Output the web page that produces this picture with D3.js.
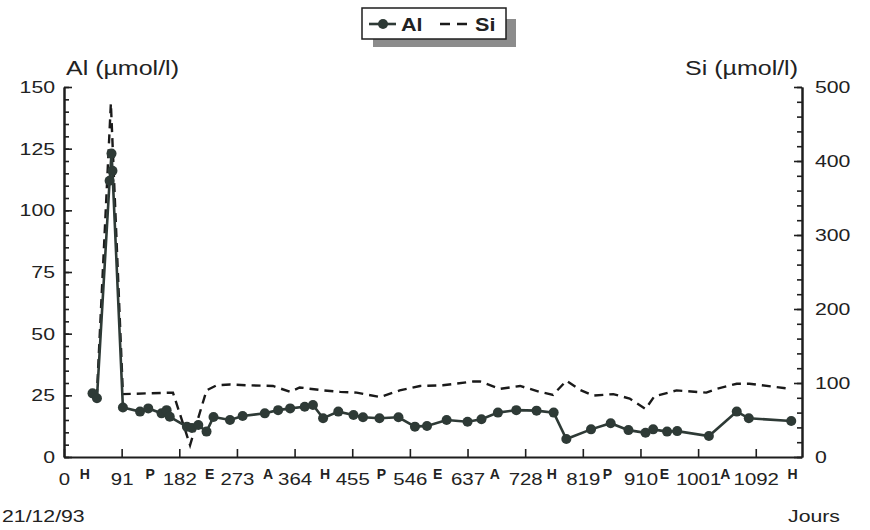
<!DOCTYPE html>
<html>
<head>
<meta charset="utf-8">
<script src="https://cdn.jsdelivr.net/npm/d3@7"></script>
<style>
  html, body { margin: 0; padding: 0; background: #fff; }
  svg { display: block; }
  text { font-family: "Liberation Sans", Arial, sans-serif; fill: #222; }
</style>
</head>
<body>
<svg id="chart" width="870" height="530"></svg>
<script>
// ---- data (days since 21/12/93) ----
const alDays   = [45, 52, 72, 75, 76.5, 93, 120, 133, 154, 162, 167, 194, 202, 212, 225, 236, 262, 282, 317, 338, 357, 380, 393, 409, 433, 457, 472, 498, 528, 554, 573, 604, 637, 659, 685, 714, 746, 773, 793, 832, 863, 891, 918, 930, 952, 968, 1018, 1062, 1081, 1148];
const alValues = [25.8, 23.8, 112, 123, 116, 20.1, 18.4, 19.7, 17.7, 19.0, 16.3, 12.3, 11.8, 13.0, 10.3, 16.2, 15.0, 16.6, 17.7, 19.0, 19.7, 20.4, 21.1, 15.7, 18.4, 17.0, 16.1, 15.7, 16.1, 12.3, 12.6, 15.0, 14.3, 15.3, 18.0, 19.0, 18.8, 18.0, 7.3, 11.2, 13.7, 10.9, 9.8, 11.2, 10.3, 10.5, 8.5, 18.4, 15.7, 14.6];

const siDays   = [45, 52, 74, 93, 172, 199, 225, 241, 262, 288, 330, 357, 372, 409, 436, 462, 499, 530, 562, 598, 646, 657, 688, 720, 751, 772, 793, 814, 835, 867, 893, 918, 932, 967, 1014, 1030, 1062, 1082, 1148];
const siValues = [88, 86, 478, 85, 87, 16, 90, 97, 98, 97, 96, 88, 94, 90, 88, 87, 81, 90, 96, 97, 102, 102, 92, 96, 88, 84, 103, 91, 83, 85, 79, 65, 82, 90, 87, 92, 99, 99, 92];

const xTicks   = [0, 91, 182, 273, 364, 455, 546, 637, 728, 819, 910, 1001, 1092];
const alTicks  = [0, 25, 50, 75, 100, 125, 150];
const siTicks  = [0, 100, 200, 300, 400, 500];
const seasons    = ["H", "P", "E", "A", "H", "P", "E", "A", "H", "P", "E", "A", "H"];
const seasonDays = [33, 136, 230, 322, 412, 501, 590, 680, 770, 858, 948, 1044, 1150];

// ---- layout ----
const svg = d3.select("#chart");
const X0 = 64, X1 = 802, Y0 = 457, Y1 = 87;
const SX = 1.25; // horizontal stretch of the scanned text

const x   = d3.scaleLinear().domain([0, 1165]).range([X0, X1]);
const yAl = d3.scaleLinear().domain([0, 150]).range([Y0, Y1]);
const ySi = d3.scaleLinear().domain([0, 500]).range([Y0, Y1]);

const ink = "#1e1e1e";
const alColor = "#2e3a36";

// ---- axes ----
function styleAxis(g) {
  g.selectAll("path.domain").attr("stroke", ink).attr("stroke-width", 2);
  g.selectAll(".tick line").attr("stroke", ink).attr("stroke-width", 1.6);
  g.selectAll("text").attr("font-size", 17).attr("fill", "#222")
    .attr("font-family", "'Liberation Sans', Arial, sans-serif");
}
const fmt = d3.format("d");

// left minor ticks
svg.append("g").attr("transform", `translate(${X0},0)`)
  .call(d3.axisLeft(yAl).tickValues(d3.range(0, 151, 5)).tickSize(-5).tickSizeOuter(0).tickFormat(""))
  .call(styleAxis);
// left major
const gL = svg.append("g").attr("transform", `translate(${X0},0)`)
  .call(d3.axisLeft(yAl).tickValues(alTicks).tickSize(-8).tickSizeOuter(0).tickFormat(fmt))
  .call(styleAxis);
gL.selectAll("text").attr("x", -9 / SX).attr("transform", `scale(${SX},1)`);

// right minor
svg.append("g").attr("transform", `translate(${X1},0)`)
  .call(d3.axisRight(ySi).tickValues(d3.range(0, 501, 20)).tickSize(-5).tickSizeOuter(0).tickFormat(""))
  .call(styleAxis);
const gR = svg.append("g").attr("transform", `translate(${X1},0)`)
  .call(d3.axisRight(ySi).tickValues(siTicks).tickSize(-8).tickSizeOuter(0).tickFormat(fmt))
  .call(styleAxis);
gR.selectAll("text").attr("x", 13 / SX).attr("transform", `scale(${SX},1)`);

// bottom
const gB = svg.append("g").attr("transform", `translate(0,${Y0})`)
  .call(d3.axisBottom(x).tickValues(xTicks).tickSize(-8).tickSizeOuter(0).tickFormat(fmt))
  .call(styleAxis);
gB.selectAll("text").attr("y", 28).attr("dy", 0).attr("transform", `scale(1.2,1)`);

// season letters
svg.append("g").selectAll("text").data(seasons).join("text")
  .attr("x", (d, i) => x(seasonDays[i]))
  .attr("y", 479)
  .attr("text-anchor", "middle")
  .attr("font-size", 14)
  .attr("font-weight", "bold")
  .text(d => d);

// axis titles
svg.append("text").attr("transform", `translate(66,75) scale(${SX},1)`)
  .attr("font-size", 20).text("Al (µmol/l)");
svg.append("text").attr("transform", `translate(798,75) scale(${SX},1)`)
  .attr("font-size", 20).attr("text-anchor", "end").text("Si (µmol/l)");
svg.append("text").attr("transform", `translate(2,522) scale(${SX},1)`)
  .attr("font-size", 17).text("21/12/93");
svg.append("text").attr("transform", `translate(840,522) scale(${SX},1)`)
  .attr("font-size", 17).attr("text-anchor", "end").text("Jours");

// ---- series ----
const siData = siDays.map((d, i) => [d, siValues[i]]);
const alData = alDays.map((d, i) => [d, alValues[i]]);

svg.append("path").datum(siData)
  .attr("fill", "none").attr("stroke", "#1a1a1a").attr("stroke-width", 2.4)
  .attr("stroke-dasharray", "9,6")
  .attr("d", d3.line().x(d => x(d[0])).y(d => ySi(d[1])));

svg.append("path").datum(alData)
  .attr("fill", "none").attr("stroke", alColor).attr("stroke-width", 2.6)
  .attr("d", d3.line().x(d => x(d[0])).y(d => yAl(d[1])));

svg.append("g").selectAll("circle").data(alData).join("circle")
  .attr("cx", d => x(d[0])).attr("cy", d => yAl(d[1])).attr("r", 5)
  .attr("fill", alColor);

// ---- legend ----
const lg = svg.append("g");
lg.append("rect").attr("x", 373).attr("y", 19).attr("width", 143).attr("height", 28).attr("fill", "#8c8c8c");
lg.append("rect").attr("x", 362).attr("y", 8).attr("width", 144).attr("height", 31)
  .attr("fill", "#fff").attr("stroke", ink).attr("stroke-width", 1.5);
lg.append("line").attr("x1", 369).attr("x2", 396).attr("y1", 24).attr("y2", 24)
  .attr("stroke", alColor).attr("stroke-width", 2.6);
lg.append("circle").attr("cx", 383).attr("cy", 24).attr("r", 5).attr("fill", alColor);
lg.append("text").attr("transform", `translate(401,31) scale(1.2,1)`)
  .attr("font-size", 18).attr("font-weight", "bold").text("Al");
lg.append("line").attr("x1", 440).attr("x2", 468).attr("y1", 24).attr("y2", 24)
  .attr("stroke", "#1a1a1a").attr("stroke-width", 2.6).attr("stroke-dasharray", "10,7");
lg.append("text").attr("transform", `translate(475,31) scale(1.2,1)`)
  .attr("font-size", 18).attr("font-weight", "bold").text("Si");
</script>
</body>
</html>
